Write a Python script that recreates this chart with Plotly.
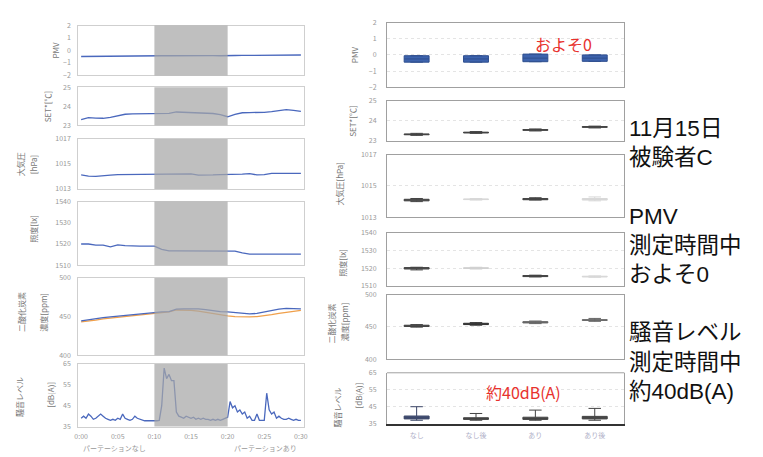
import plotly.graph_objects as go

W, H = 763, 457
FONT = "Noto Sans CJK JP"

# ---------------- data ----------------
t_min = list(range(31))  # minutes 0..30
pmv_left = [-0.48, -0.47, -0.47, -0.46, -0.46, -0.45, -0.45, -0.44, -0.44, -0.43, -0.43,
            -0.42, -0.42, -0.41, -0.41, -0.40, -0.40, -0.40, -0.41, -0.42, -0.44, -0.40,
            -0.39, -0.38, -0.38, -0.37, -0.37, -0.36, -0.35, -0.35, -0.36]
set_left = [23.30, 23.40, 23.38, 23.37, 23.42, 23.48, 23.58, 23.60, 23.60, 23.60, 23.61,
            23.62, 23.63, 23.70, 23.69, 23.68, 23.66, 23.65, 23.62, 23.56, 23.45, 23.58,
            23.66, 23.67, 23.67, 23.68, 23.72, 23.78, 23.82, 23.78, 23.73]
atm_left = [1014.12, 1014.02, 1014.00, 1014.02, 1014.10, 1014.15, 1014.15, 1014.15, 1014.15,
            1014.15, 1014.15, 1014.15, 1014.15, 1014.18, 1014.15, 1014.20, 1014.10, 1014.08,
            1014.12, 1014.15, 1014.15, 1014.15, 1014.18, 1014.22, 1014.12, 1014.15, 1014.25,
            1014.25, 1014.25, 1014.25, 1014.25]
illum_left = [1520.0, 1520.0, 1519.5, 1519.5, 1518.7, 1519.6, 1519.2, 1519.0, 1519.0, 1519.0,
              1519.0, 1517.5, 1516.8, 1516.8, 1516.8, 1516.8, 1516.8, 1516.8, 1516.8, 1516.8,
              1516.8, 1516.6, 1515.8, 1515.2, 1515.2, 1515.2, 1515.2, 1515.2, 1515.2, 1515.2,
              1515.2]
co2_blue = [444.5, 446, 447.5, 448.5, 449.5, 450.5, 451.5, 452.5, 453.5, 454.5, 455.5, 456,
            456.5, 459.5, 460, 460, 460, 459, 457.5, 456.5, 456, 455, 454, 453.5, 454, 456,
            458, 459.5, 460.5, 460.5, 460]
co2_orange = [443, 444, 445.5, 447, 448, 449, 450, 451, 452, 453, 454, 455, 456, 458.5, 458.5,
              458, 457, 455.5, 453.5, 452, 451, 450, 449.5, 449.5, 450, 451, 452.5, 454, 455.5,
              457, 458]
t_noise = [i / 3 for i in range(91)]  # every 20 s
noise_left = [39, 40, 39, 41, 40, 38.5, 39, 40, 41, 40, 39, 38.5, 38, 38.5, 38, 39, 38.5, 41,
              39, 38.5, 38, 38.5, 40, 39, 38.5, 38, 37.8, 37.8, 37.7, 37.8, 37.8,
              37.8, 38, 45, 63, 58, 60, 57, 57, 42, 40, 39.5, 39, 40, 39.5, 39, 39.5, 38.5, 39,
              38.5, 39, 38.5, 38.5, 38, 38.5, 38, 38.5, 38, 38.5, 39, 39.5,
              47, 44, 45, 42, 43, 41, 42, 39, 40, 38, 38, 41, 38, 38, 38, 51, 43, 41, 42, 39,
              40, 39, 38.5, 38.5, 39, 38.5, 38, 38.5, 38, 38]

time_ticks = [0, 5, 10, 15, 20, 25, 30]
time_labels = ["0:00", "0:05", "0:10", "0:15", "0:20", "0:25", "0:30"]
shade = [10, 20]

cats = ["なし", "なし後", "あり", "あり後"]
# box statistics per right panel: lowerfence, q1, median, q3, upperfence
pmv_box = dict(lo=[-0.45, -0.45, -0.42, -0.40], q1=[-0.45, -0.45, -0.42, -0.40],
               med=[-0.25, -0.25, -0.20, -0.20], q3=[-0.05, -0.05, 0.05, 0.0],
               hi=[-0.05, -0.05, 0.05, 0.0])
set_box = dict(lo=[23.28, 23.38, 23.50, 23.65], q1=[23.31, 23.40, 23.53, 23.68],
               med=[23.33, 23.42, 23.55, 23.70], q3=[23.35, 23.44, 23.57, 23.72],
               hi=[23.38, 23.47, 23.60, 23.74])
atm_box = dict(lo=[1014.0, 1014.1, 1014.1, 1014.05], q1=[1014.05, 1014.13, 1014.12, 1014.1],
               med=[1014.1, 1014.15, 1014.15, 1014.15], q3=[1014.15, 1014.17, 1014.2, 1014.2],
               hi=[1014.2, 1014.2, 1014.25, 1014.3])
illum_box = dict(lo=[1519.0, 1519.5, 1515.0, 1514.8], q1=[1519.5, 1519.8, 1515.2, 1515.0],
                 med=[1520.0, 1520.0, 1515.5, 1515.2], q3=[1520.3, 1520.2, 1515.8, 1515.4],
                 hi=[1520.5, 1520.5, 1516.0, 1515.6])
co2_box = dict(lo=[449.5, 452.5, 455.0, 458.5], q1=[450.5, 453.5, 456.0, 460.0],
               med=[451.5, 454.5, 457.0, 460.5], q3=[452.5, 455.5, 458.0, 461.0],
               hi=[453.5, 456.5, 459.0, 463.0])
noise_box = dict(lo=[37.0, 37.0, 37.0, 37.0], q1=[37.8, 37.5, 37.5, 37.8],
                 med=[38.5, 38.0, 38.0, 38.5], q3=[39.5, 38.5, 38.8, 39.3],
                 hi=[45.0, 41.0, 43.0, 44.0])

side_lines = ["11月15日", "被験者C", "PMV", "測定時間中", "およそ0",
              "騒音レベル", "測定時間中", "約40dB(A)"]

# ---------------- layout helpers ----------------
def px_x(p):
    return p / W

def px_y(p):
    return 1 - p / H

left_x = (75, 303)
right_x = (387, 627)
left_rows = [(20, 71), (83, 122), (136, 187), (200, 265), (278, 357), (366, 430)]
right_rows = [(17, 83), (97, 138), (152, 216), (232, 286), (295, 361), (375, 427)]

left_ranges = [[-2, 2], [23, 25], [1013, 1017], [1510, 1540], [400, 500], [35, 65]]
left_ticks = [[-2, -1, 0, 1, 2], [23, 24, 25], [1013, 1015, 1017], [1510, 1520, 1530, 1540],
              [400, 450, 500], [35, 45, 55, 65]]

fig = go.Figure()
layout = dict(width=W, height=H, margin=dict(l=0, r=0, t=0, b=0),
              paper_bgcolor="white", plot_bgcolor="white", showlegend=False,
              font=dict(family=FONT, size=8, color="#888"))
shapes = []
annotations = []

BLUE = "#4a68bd"
ORANGE = "#f0a04b"
TICKFONT = dict(size=7, color="#999")

# left panels
left_series = [[pmv_left], [set_left], [atm_left], [illum_left], [co2_orange, co2_blue], [noise_left]]
left_colors = [[BLUE], [BLUE], [BLUE], [BLUE], [ORANGE, BLUE], [BLUE]]
for i in range(6):
    n = i + 1
    xa = "x" if n == 1 else f"x{n}"
    ya = "y" if n == 1 else f"y{n}"
    xs = t_noise if i == 5 else t_min
    for ser, col in zip(left_series[i], left_colors[i]):
        fig.add_trace(go.Scatter(x=xs, y=ser, mode="lines", line=dict(color=col, width=1.3),
                                 xaxis=xa, yaxis=ya, hoverinfo="skip"))
    top, bot = left_rows[i]
    layout[f"xaxis{n}"] = dict(domain=[px_x(left_x[0]), px_x(left_x[1])], range=[-0.4, 30.4],
                               anchor=ya, showgrid=False, zeroline=False, showline=True,
                               mirror=True, linecolor="#cfcfcf", linewidth=1,
                               tickvals=time_ticks, ticktext=time_labels,
                               showticklabels=(i == 5), ticks="",
                               ticklabelstandoff=3, tickfont=TICKFONT)
    layout[f"yaxis{n}"] = dict(domain=[px_y(bot), px_y(top)], range=left_ranges[i],
                               anchor=xa, showgrid=False, zeroline=False, showline=True,
                               mirror=True, linecolor="#cfcfcf", linewidth=1,
                               tickvals=left_ticks[i], ticks="", ticklabelstandoff=5,
                               tickfont=TICKFONT)
    shapes.append(dict(type="rect", xref=xa, yref=f"{ya} domain", x0=shade[0], x1=shade[1],
                       y0=0, y1=1, fillcolor="#a6a6a6", opacity=0.72, line=dict(width=0),
                       layer="above"))

# right panels
right_boxes = [pmv_box, set_box, atm_box, illum_box, co2_box, noise_box]
box_fill = [["#3d63ad"] * 4,
            ["#666"] * 4,
            ["#666", "#d8d8d8", "#666", "#d8d8d8"],
            ["#666", "#d0d0d0", "#666", "#d8d8d8"],
            ["#666", "#555", "#888", "#888"],
            ["#4c5a80", "#555", "#555", "#555"]]
box_line = [["#2f4f8f"] * 4,
            ["#444"] * 4,
            ["#444", "#d8d8d8", "#444", "#d8d8d8"],
            ["#444", "#d0d0d0", "#444", "#d8d8d8"],
            ["#444", "#333", "#666", "#666"],
            ["#3a4566", "#444", "#444", "#444"]]
for i in range(6):
    n = i + 7
    xa, ya = f"x{n}", f"y{n}"
    b = right_boxes[i]
    for k, c in enumerate(cats):
        fig.add_trace(go.Box(x=[c], lowerfence=[b["lo"][k]], q1=[b["q1"][k]],
                             median=[b["med"][k]], q3=[b["q3"][k]], upperfence=[b["hi"][k]],
                             width=0.42, fillcolor=box_fill[i][k],
                             line=dict(color=box_line[i][k], width=1), boxpoints=False,
                             xaxis=xa, yaxis=ya, hoverinfo="skip"))
    top, bot = right_rows[i]
    layout[f"xaxis{n}"] = dict(domain=[px_x(right_x[0]), px_x(right_x[1])], range=[-0.5, 3.5],
                               anchor=ya, type="category", categoryorder="array",
                               categoryarray=cats, showgrid=False, zeroline=False,
                               showline=True, mirror=(i != 5),
                               linecolor="#333" if i == 5 else "#a0a0a0",
                               linewidth=1.6 if i == 5 else 1,
                               showticklabels=(i == 5), ticks="", ticklabelstandoff=4,
                               tickfont=dict(size=7, color="#b0b0c8"))
    layout[f"yaxis{n}"] = dict(domain=[px_y(bot), px_y(top)], range=left_ranges[i],
                               anchor=xa, showgrid=True, gridcolor="#e4e4e4", griddash="dot",
                               gridwidth=1, zeroline=False, showline=True, mirror=True,
                               linecolor="#a0a0a0", linewidth=1,
                               tickvals=left_ticks[i], ticks="", ticklabelstandoff=8,
                               tickfont=TICKFONT)
    if i == 5:
        shapes.append(dict(type="line", xref=f"{xa} domain", yref=f"{ya} domain",
                           x0=0, x1=1, y0=1, y1=1, line=dict(color="#a0a0a0", width=1)))

# axis titles (rotated)
def vtitle(text, x, y, size=8, color="#777"):
    annotations.append(dict(text=text, x=px_x(x), y=px_y(y), xref="paper", yref="paper",
                            showarrow=False, textangle=-90, xanchor="center", yanchor="middle",
                            font=dict(size=size, color=color, family=FONT)))

vtitle("PMV", 52, 45)
vtitle("SET*[℃]", 44, 103)
vtitle("大気圧", 17, 162)
vtitle("[hPa]", 30, 162)
vtitle("照度[lx]", 29, 228)
vtitle("二酸化炭素", 17, 313)
vtitle("濃度[ppm]", 40, 313)
vtitle("騒音レベル", 15, 400)
vtitle("[dB(A)]", 47, 398)

vtitle("PMV", 355, 50)
vtitle("SET*[℃]", 352, 118)
vtitle("大気圧[hPa]", 339, 182)
vtitle("照度[lx]", 342, 262)
vtitle("二酸化炭素", 331, 325)
vtitle("濃度[ppm]", 345, 323)
vtitle("騒音レベル", 337, 410)
vtitle("[dB(A)]", 358, 398)

# x-axis group labels (left)
for txt, xc in [("パーテーションなし", 112), ("パーテーションあり", 264)]:
    annotations.append(dict(text=txt, x=px_x(xc), y=px_y(451.5), xref="paper", yref="paper",
                            showarrow=False, xanchor="center", yanchor="middle", borderpad=0,
                            font=dict(size=7, color="#999", family=FONT)))

# red notes
RED = "#e8322e"
annotations.append(dict(text="およそ0", x=px_x(535), y=px_y(39), xref="paper", yref="paper",
                        showarrow=False, xanchor="left", yanchor="middle",
                        font=dict(size=16, color=RED, family=FONT)))
annotations.append(dict(text="約40dB(A)", x=px_x(485), y=px_y(395), xref="paper", yref="paper",
                        showarrow=False, xanchor="left", yanchor="middle",
                        font=dict(size=16, color=RED, family=FONT)))

# side text, one annotation per line
side_y = [125, 155, 215, 245, 275, 334, 364, 394]
for txt, yc in zip(side_lines, side_y):
    annotations.append(dict(text=txt, x=px_x(631), y=px_y(yc), xref="paper", yref="paper",
                            showarrow=False, xanchor="left", yanchor="middle", borderpad=0,
                            font=dict(size=22.5, color="#111",
                                      family="Liberation Sans, Noto Sans CJK JP")))

layout["shapes"] = shapes
layout["annotations"] = annotations
fig.update_layout(**layout)
fig.write_html("out.html")
